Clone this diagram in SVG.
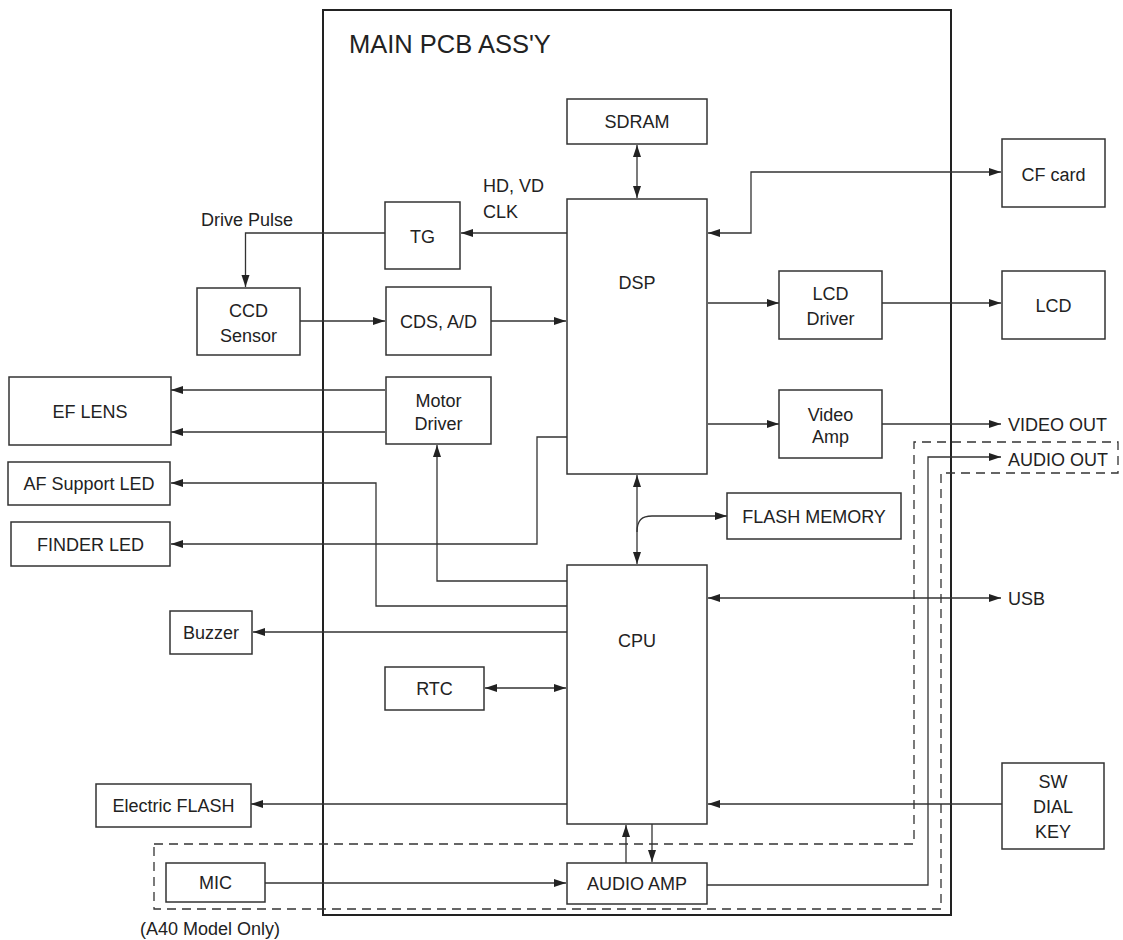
<svg xmlns="http://www.w3.org/2000/svg" width="1123" height="940" viewBox="0 0 1123 940">
<style>
.bx{fill:#fff;stroke:#333;stroke-width:1.5}
.t{font-family:"Liberation Sans",Arial,sans-serif;font-size:18px;fill:#222;text-anchor:middle}
.tl{font-family:"Liberation Sans",Arial,sans-serif;font-size:18px;fill:#222}
.c{fill:none;stroke:#333;stroke-width:1.3}
.e{marker-end:url(#ah)}
.s{marker-start:url(#ah)}
</style>
<defs>
<marker id="ah" markerUnits="userSpaceOnUse" markerWidth="13" markerHeight="9" refX="12" refY="4" orient="auto-start-reverse">
<path d="M0,0 L12,4 L0,8 Z" fill="#222"/>
</marker>
</defs>
<rect width="1123" height="940" fill="#fff"/>
<g id="main-pcb">
<rect x="323" y="10" width="628" height="905" fill="none" stroke="#222" stroke-width="2"/>
<text class="tl" x="349" y="53" style="font-size:25.5px">MAIN PCB ASS'Y</text>
</g>
<g id="a40-region">
<path d="M154,844 H914 V442 H1118 V473 H941 V909 H154 Z" fill="none" stroke="#333" stroke-width="1.3" stroke-dasharray="9,6"/>
<text class="tl" x="140" y="935">(A40 Model Only)</text>
</g>
<g id="connectors">
<path class="c s e" d="M637,145 V198"/>
<path class="c e" d="M567,233 H461"/>
<path class="c e" d="M385,233 H245.5 V287"/>
<path class="c e" d="M300,321 H385"/>
<path class="c e" d="M491,321 H566"/>
<path class="c e" d="M385,390 H171"/>
<path class="c e" d="M385,432 H171"/>
<path class="c e" d="M567,437 H537 V544 H171"/>
<path class="c e" d="M567,606 H376 V483 H171"/>
<path class="c e" d="M567,581 H437 V445"/>
<path class="c e" d="M567,632 H253"/>
<path class="c s e" d="M485,688 H566"/>
<path class="c s e" d="M637,475 V564"/>
<path class="c e" d="M637,532 C637,520 642,516 652,516 H727"/>
<path class="c e" d="M708,303 H779"/>
<path class="c e" d="M882,303 H1001"/>
<path class="c e" d="M708,424 H779"/>
<path class="c e" d="M882,424 H1001"/>
<path class="c s e" d="M708,233 H751 V172 H1001"/>
<path class="c s e" d="M708,598 H1001"/>
<path class="c e" d="M1002,804 H708"/>
<path class="c e" d="M567,804 H251"/>
<path class="c e" d="M265,883 H566"/>
<path class="c e" d="M626,863 V825"/>
<path class="c e" d="M652,824 V862"/>
<path class="c e" d="M707,885 H928 V457 H1001"/>
</g>
<g id="labels">
<text class="tl" x="201" y="226">Drive Pulse</text>
<text class="tl" x="483" y="192">HD, VD</text>
<text class="tl" x="483" y="218">CLK</text>
<text class="tl" x="1008" y="431">VIDEO OUT</text>
<text class="tl" x="1008" y="466">AUDIO OUT</text>
<text class="tl" x="1008" y="605">USB</text>
</g>
<g id="sdram"><rect class="bx" x="567" y="99" width="140" height="45"/><text class="t" x="637" y="128">SDRAM</text></g>
<g id="dsp"><rect class="bx" x="567" y="199" width="140" height="275"/><text class="t" x="637" y="289">DSP</text></g>
<g id="tg"><rect class="bx" x="385" y="202" width="75" height="67"/><text class="t" x="422.5" y="243">TG</text></g>
<g id="ccd"><rect class="bx" x="197" y="288" width="103" height="67"/><text class="t" x="248.5" y="317">CCD</text><text class="t" x="248.5" y="342">Sensor</text></g>
<g id="cds"><rect class="bx" x="386" y="287" width="105" height="68"/><text class="t" x="438.5" y="328">CDS, A/D</text></g>
<g id="motor"><rect class="bx" x="386" y="377" width="105" height="67"/><text class="t" x="438.5" y="407">Motor</text><text class="t" x="438.5" y="430">Driver</text></g>
<g id="eflens"><rect class="bx" x="9" y="377" width="162" height="68"/><text class="t" x="90" y="418">EF LENS</text></g>
<g id="afled"><rect class="bx" x="8" y="462" width="162" height="43"/><text class="t" x="89" y="490">AF Support LED</text></g>
<g id="finderled"><rect class="bx" x="11" y="522" width="159" height="44"/><text class="t" x="90.5" y="551">FINDER LED</text></g>
<g id="buzzer"><rect class="bx" x="170" y="611" width="82" height="43"/><text class="t" x="211" y="639">Buzzer</text></g>
<g id="rtc"><rect class="bx" x="385" y="667" width="99" height="43"/><text class="t" x="434.5" y="695">RTC</text></g>
<g id="cpu"><rect class="bx" x="567" y="565" width="140" height="259"/><text class="t" x="637" y="647">CPU</text></g>
<g id="flash-memory"><rect class="bx" x="727" y="493" width="174" height="46"/><text class="t" x="814" y="523">FLASH MEMORY</text></g>
<g id="lcd-driver"><rect class="bx" x="779" y="271" width="103" height="68"/><text class="t" x="830.5" y="300">LCD</text><text class="t" x="830.5" y="325">Driver</text></g>
<g id="video-amp"><rect class="bx" x="779" y="390" width="103" height="68"/><text class="t" x="830.5" y="421">Video</text><text class="t" x="830.5" y="443">Amp</text></g>
<g id="cf-card"><rect class="bx" x="1002" y="139" width="103" height="68"/><text class="t" x="1053.5" y="181">CF card</text></g>
<g id="lcd"><rect class="bx" x="1002" y="271" width="103" height="68"/><text class="t" x="1053.5" y="312">LCD</text></g>
<g id="sw"><rect class="bx" x="1002" y="763" width="102" height="86"/><text class="t" x="1053" y="788">SW</text><text class="t" x="1053" y="813">DIAL</text><text class="t" x="1053" y="838">KEY</text></g>
<g id="electric-flash"><rect class="bx" x="96" y="784" width="155" height="43"/><text class="t" x="173.5" y="812">Electric FLASH</text></g>
<g id="mic"><rect class="bx" x="166" y="863" width="99" height="39"/><text class="t" x="215.5" y="889">MIC</text></g>
<g id="audio-amp"><rect class="bx" x="567" y="863" width="140" height="41"/><text class="t" x="637" y="890">AUDIO AMP</text></g>
</svg>
